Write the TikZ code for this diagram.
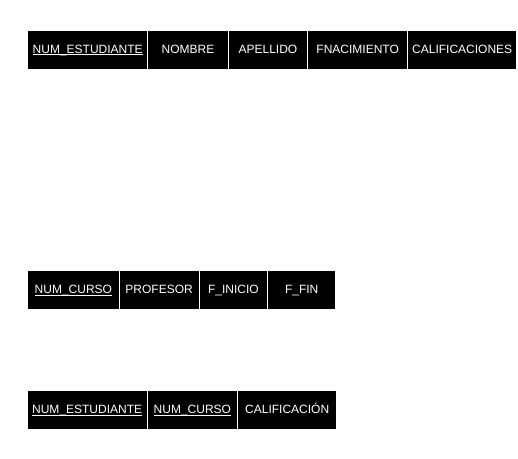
\documentclass[tikz,border=0pt]{standalone}
\usepackage{fontspec}
\setmainfont{Liberation Sans}
\newcommand\keyul[1]{\setbox0\hbox{#1}\rlap{\vrule width\wd0 height -1.3bp depth 2.2bp}\box0}
\begin{document}
\begin{tikzpicture}[x=1bp,y=-1bp,
  cell/.style={fill=black, text=white, inner sep=0pt, minimum height=38bp,
    anchor=north west, text height=9bp, text depth=3bp,
    font=\fontsize{12bp}{14bp}\selectfont}]
\useasboundingbox (0,0) rectangle (518,459);
% Table 1: ESTUDIANTE
\node[cell, minimum width=119bp]   (e1) at (28,31)    {\keyul{NUM\_ESTUDIANTE}};
\node[cell, minimum width=79.5bp]  (e2) at (148,31)   {NOMBRE};
\node[cell, minimum width=78.5bp]  (e3) at (228.5,31) {APELLIDO};
\node[cell, minimum width=99bp]    (e4) at (308,31)   {FNACIMIENTO};
\node[cell, minimum width=108bp]   (e5) at (408,31)   {CALIFICACIONES};
% Table 2: CURSO
\node[cell, minimum width=90.3bp]  (c1) at (28,271)    {\keyul{NUM\_CURSO}};
\node[cell, minimum width=79.2bp]  (c2) at (119.3,271) {PROFESOR};
\node[cell, minimum width=67.5bp]  (c3) at (199.5,271) {F\_INICIO};
\node[cell, minimum width=67bp]    (c4) at (268,271)   {F\_FIN};
% Table 3: CALIFICACION
\node[cell, minimum width=118.8bp] (q1) at (27.5,391)  {\keyul{NUM\_ESTUDIANTE}};
\node[cell, minimum width=89.7bp]  (q2) at (147.3,391) {\keyul{NUM\_CURSO}};
\node[cell, minimum width=98bp]    (q3) at (238,391)   {CALIFICACIÓN};
\end{tikzpicture}
\end{document}
